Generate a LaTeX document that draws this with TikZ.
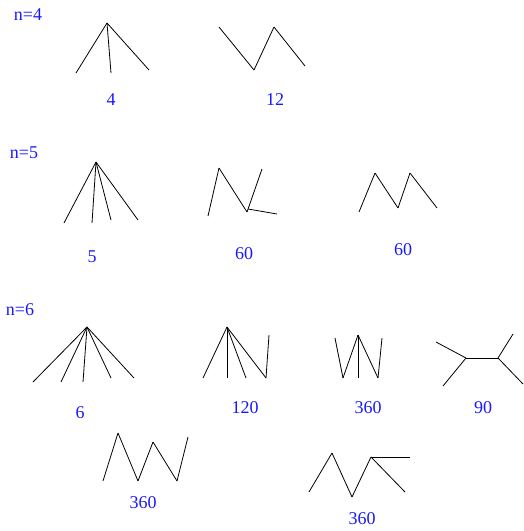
\documentclass[tikz,border=0pt]{standalone}
\usepackage{fontspec}
\setmainfont{Liberation Serif}
\usepackage{xcolor}
\definecolor{cntblue}{RGB}{25,25,255}
\tikzset{
    cnt/.style={text=cntblue, font=\fontsize{18}{21}\selectfont, inner sep=0pt},
    edge/.style={black, line width=0.8pt},
}
% star: apex #2/#3, leaves #4
\newcommand{\starTree}[4]{%
    \coordinate (#1) at (#2,#3);
    \foreach \x/\y [count=\k] in {#4} {
        \coordinate (#1l\k) at (\x,\y);
        \draw[edge] (#1) -- (#1l\k);
    }
}
% zigzag path through the points #2
\newcommand{\zigPath}[2]{%
    \foreach \x/\y [count=\k, remember=\k as \j (initially 0)] in {#2} {
        \coordinate (#1v\k) at (\x,\y);
        \ifnum\k>1 \draw[edge] (#1v\j) -- (#1v\k); \fi
    }
}

\begin{document}
\begin{tikzpicture}[x=1pt, y=-1pt]
    \useasboundingbox (0,0) rectangle (524,531);

    % n=4
    \node[cnt] (n4) at (28,15) {n=4};
    \starTree{s4}{107}{23}{76/73, 111/73, 149/70}
    \node[cnt] (c4) at (111,100) {4};
    \zigPath{z12}{219/27, 254/70, 274/27, 305/66}
    \node[cnt] (c12) at (275,100) {12};

    % n=5
    \node[cnt] (n5) at (24,153) {n=5};
    \starTree{s5}{96}{162}{64/223, 92/223, 111/220, 138/220}
    \node[cnt] (c5) at (92,257) {5};
    \zigPath{t60}{208/216, 219/168, 247/212, 262/169}
    \coordinate (t60x) at (277,214);
    \draw[edge] (t60v3) ++(1,-3) -- (t60x);
    \node[cnt] (c60a) at (244,254) {60};
    \zigPath{z60}{359/212, 375/173, 398/208, 410/173, 437/208}
    \node[cnt] (c60b) at (403,250) {60};

    % n=6
    \node[cnt] (n6) at (20,310) {n=6};
    \starTree{s6}{87}{327}{33/382, 61/382, 83/382, 111/378, 134/378}
    \node[cnt] (c6) at (80,413) {6};
    \starTree{t120}{227}{327}{203/378, 227/378, 246/378, 266/378}
    \coordinate (t120x) at (269,335);
    \draw[edge] (t120l4) -- (t120x);
    \node[cnt] (c120) at (245,408) {120};
    \zigPath{t360}{335/338, 343/378, 358/335, 378/378, 382/338}
    \coordinate (t360x) at (358,378);
    \draw[edge] (t360v3) -- (t360x);
    \node[cnt] (c360a) at (368,408) {360};
    \starTree{t90a}{466}{358}{436/342, 443/386}
    \starTree{t90b}{498}{358}{513/334, 523/384}
    \draw[edge] (t90a) -- (t90b);
    \node[cnt] (c90) at (483,408) {90};
    \zigPath{z360}{103/481, 118/433, 138/481, 153/442, 177/481, 188/437}
    \node[cnt] (c360b) at (143,503) {360};
    \zigPath{t36b}{309/492, 332/453, 352/497, 371/457, 405/492}
    \coordinate (t36bx) at (410,457);
    \draw[edge] (t36bv4) -- (t36bx);
    \node[cnt] (c360c) at (362,519) {360};
\end{tikzpicture}
\end{document}
